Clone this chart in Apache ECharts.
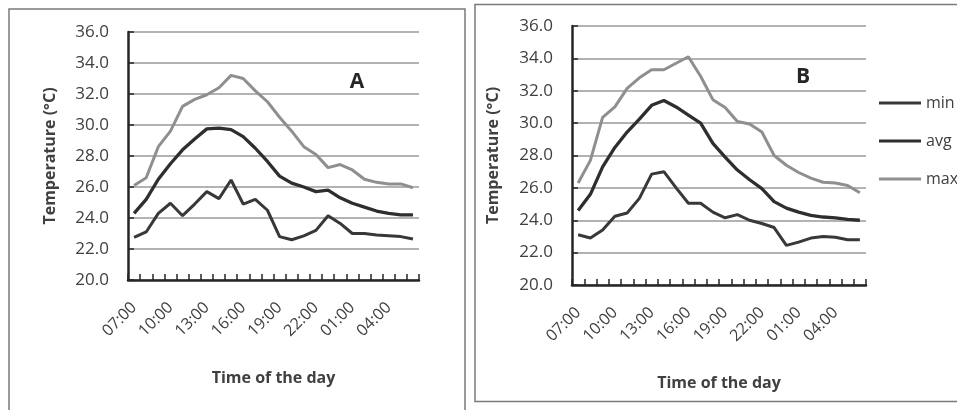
<!DOCTYPE html>
<html>
<head>
<meta charset="utf-8">
<script src="https://cdn.jsdelivr.net/npm/echarts@6/dist/echarts.min.js"></script>
<style>html,body{margin:0;padding:0;background:#fff;}#c{width:957px;height:410px;}</style>
</head>
<body>
<div id="c"></div>
<script>
var hours = ['07:00','08:00','09:00','10:00','11:00','12:00','13:00','14:00','15:00','16:00','17:00','18:00','19:00','20:00','21:00','22:00','23:00','00:00','01:00','02:00','03:00','04:00','05:00','06:00'];
var minA = [22.75,23.1,24.3,24.95,24.15,24.9,25.7,25.25,26.45,24.9,25.2,24.5,22.8,22.6,22.85,23.2,24.15,23.65,23.0,23.0,22.9,22.85,22.8,22.65];
var avgA = [24.3,25.2,26.5,27.5,28.4,29.1,29.75,29.8,29.7,29.25,28.5,27.65,26.7,26.25,26.0,25.7,25.8,25.3,24.95,24.7,24.45,24.3,24.2,24.2];
var maxA = [26.1,26.6,28.6,29.6,31.2,31.65,31.95,32.4,33.2,33.0,32.2,31.5,30.5,29.6,28.6,28.1,27.25,27.45,27.1,26.5,26.3,26.2,26.2,25.95];
var minB = [23.1,22.9,23.4,24.25,24.45,25.35,26.85,27.0,26.0,25.05,25.05,24.5,24.15,24.35,24.0,23.8,23.55,22.45,22.65,22.9,23.0,22.95,22.8,22.8];
var avgB = [24.6,25.6,27.3,28.5,29.45,30.25,31.1,31.4,31.0,30.5,30.0,28.75,27.9,27.1,26.5,25.95,25.15,24.75,24.5,24.3,24.2,24.15,24.05,24.0];
var maxB = [26.3,27.7,30.35,31.0,32.15,32.8,33.3,33.3,33.7,34.1,32.9,31.45,30.97,30.1,29.95,29.45,28.0,27.4,26.95,26.6,26.35,26.3,26.15,25.7];
var yTicks = [20,36,2];

var FONT = 'Open Sans';
var TXT = '#404040';
function xAxis(gi){
  return {
    type:'category', gridIndex:gi, data:hours, boundaryGap:true,
    name:'Time of the day', nameLocation:'middle', nameGap:90,
    nameTextStyle:{fontFamily:FONT,fontSize:16,fontWeight:'bold',color:TXT},
    axisLine:{lineStyle:{color:'#262626',width:2.5}},
    axisTick:{show:true,inside:true,length:6,interval:0,lineStyle:{color:'#262626',width:1.5}},
    axisLabel:{interval:2,rotate:45,margin:25,fontFamily:FONT,fontSize:16,color:TXT},
    splitLine:{show:false}
  };
}
function yAxis(gi,gap){
  return {
    type:'value', gridIndex:gi, min:yTicks[0], max:yTicks[1], interval:yTicks[2],
    name:'Temperature (\u00B0C)', nameLocation:'middle', nameGap:gap,
    nameTextStyle:{fontFamily:FONT,fontSize:16,fontWeight:'bold',color:TXT},
    axisLine:{show:true,lineStyle:{color:'#262626',width:2.5}},
    axisTick:{show:true,inside:true,length:6,lineStyle:{color:'#262626',width:1.5}},
    axisLabel:{margin:19,fontFamily:FONT,fontSize:17,color:TXT,formatter:function(v){return v.toFixed(1);}},
    splitLine:{show:true,lineStyle:{color:'#9a9a9a',width:1.5}}
  };
}
function ser(name,data,gi,color,w){
  return {name:name,type:'line',xAxisIndex:gi,yAxisIndex:gi,data:data,symbol:'none',
    lineStyle:{color:color,width:w},itemStyle:{color:color},animation:false};
}
var option = {
  animation:false,
  grid:[
    {left:128,top:32,width:291,height:248},
    {left:572,top:26,width:294,height:259}
  ],
  xAxis:[xAxis(0),xAxis(1)],
  yAxis:[yAxis(0,70),yAxis(1,71)],
  legend:{orient:'vertical',left:879,top:95,padding:0,itemWidth:42,itemHeight:3,itemGap:22,icon:'rect',
    textStyle:{fontFamily:FONT,fontSize:16,color:TXT},data:['min','avg','max']},
  series:[
    ser('min',minA,0,'#383838',3),
    ser('avg',avgA,0,'#2e2e2e',3.3),
    ser('max',maxA,0,'#8f8f8f',3),
    ser('min',minB,1,'#383838',3),
    ser('avg',avgB,1,'#2e2e2e',3.3),
    ser('max',maxB,1,'#8f8f8f',3)
  ],
  graphic:[
    {type:'rect',shape:{x:9,y:9,width:456,height:430},style:{fill:null,stroke:'#7a7a7a',lineWidth:1.5},silent:true},
    {type:'rect',shape:{x:475,y:4.5,width:520,height:397},style:{fill:null,stroke:'#7a7a7a',lineWidth:1.5},silent:true},
    {type:'text',x:357,y:82,style:{text:'A',font:'bold 21px "Open Sans"',fill:'#262626',textAlign:'center',textVerticalAlign:'middle'}},
    {type:'text',x:803,y:77,style:{text:'B',font:'bold 21px "Open Sans"',fill:'#262626',textAlign:'center',textVerticalAlign:'middle'}}
  ]
};
var chart = echarts.init(document.getElementById('c'),null,{renderer:'canvas'});
chart.setOption(option);
</script>
</body>
</html>
